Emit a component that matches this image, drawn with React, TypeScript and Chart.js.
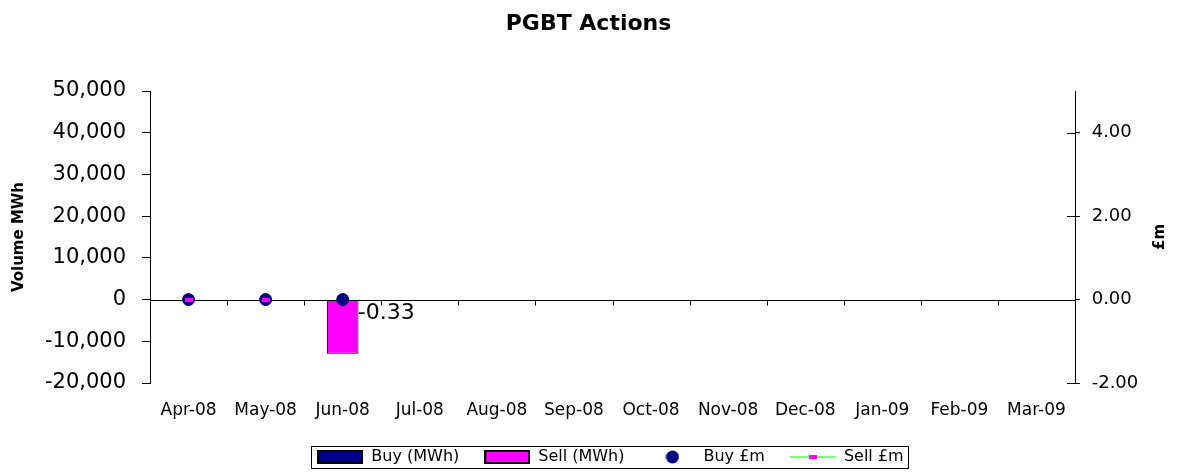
import React, { useEffect, useRef } from 'react';
import { Chart, registerables } from 'chart.js';

Chart.register(...registerables);

const categories = ['Apr-08', 'May-08', 'Jun-08', 'Jul-08', 'Aug-08', 'Sep-08', 'Oct-08', 'Nov-08', 'Dec-08', 'Jan-09', 'Feb-09', 'Mar-09'];
const buyMWh: (number | null)[] = [0, 0, 0, null, null, null, null, null, null, null, null, null];
const sellMWh: (number | null)[] = [0, 0, -13000, null, null, null, null, null, null, null, null, null];
const buyGBP: (number | null)[] = [0, 0, 0, null, null, null, null, null, null, null, null, null];
const sellGBP: (number | null)[] = [0, 0, -0.33, null, null, null, null, null, null, null, null, null];
const leftTicks = [-20000, -10000, 0, 10000, 20000, 30000, 40000, 50000];
const rightTicks = [-2, 0, 2, 4];
const rightMin = -2;
const rightMax = 5;
const seriesNames = ['Buy (MWh)', 'Sell (MWh)', 'Buy £m', 'Sell £m'];

const FAMILY = "'DejaVu Sans', sans-serif";

function makeBox(fill: string) {
  const c = document.createElement('canvas');
  c.width = 46; c.height = 14;
  const g = c.getContext('2d')!;
  g.fillStyle = '#000';
  g.fillRect(0, 0, 46, 14);
  g.fillStyle = fill;
  g.fillRect(2, 2, 42, 10);
  return c;
}
function makeDot(fill: string) {
  const c = document.createElement('canvas');
  c.width = 14; c.height = 14;
  const g = c.getContext('2d')!;
  g.fillStyle = fill;
  g.beginPath();
  g.arc(7, 7, 6.5, 0, Math.PI * 2);
  g.fill();
  return c;
}
function makeLine(line: string, mark: string) {
  const c = document.createElement('canvas');
  c.width = 46; c.height = 6;
  const g = c.getContext('2d')!;
  g.fillStyle = line;
  g.fillRect(0, 2.5, 46, 1);
  g.fillStyle = mark;
  g.fillRect(19, 1, 8, 4);
  return c;
}
function makeRectMarker(mark: string) {
  const c = document.createElement('canvas');
  c.width = 8; c.height = 4;
  const g = c.getContext('2d')!;
  g.fillStyle = mark;
  g.fillRect(0, 0, 8, 4);
  return c;
}

const extrasPlugin = {
  id: 'extras',
  afterLayout(chart: any) {
    if (chart.legend) {
      chart.legend.left += 22;
      chart.legend.right += 22;
    }
  },
  beforeDatasetsDraw(chart: any) {
    const { ctx, chartArea: a, scales } = chart;
    const y0 = Math.round(scales.y.getPixelForValue(0)) + 0.5;
    ctx.save();
    ctx.strokeStyle = '#000';
    ctx.lineWidth = 1;
    ctx.beginPath();
    ctx.moveTo(a.left, y0);
    ctx.lineTo(a.right, y0);
    const xs = scales.x;
    for (let i = 1; i < categories.length; i++) {
      const x = Math.round((xs.getPixelForTick(i - 1) + xs.getPixelForTick(i)) / 2) + 0.5;
      ctx.moveTo(x, y0);
      ctx.lineTo(x, y0 + 5);
    }
    for (const v of rightTicks) {
      const y = Math.round(scales.y1.getPixelForValue(v)) + 0.5;
      ctx.moveTo(a.right - 8, y);
      ctx.lineTo(a.right, y);
    }
    ctx.stroke();
    ctx.restore();
  },
  afterDraw(chart: any) {
    const { ctx, chartArea: a } = chart;
    ctx.save();
    ctx.translate(1160, (a.top + a.bottom) / 2);
    ctx.rotate(-Math.PI / 2);
    ctx.fillStyle = '#000';
    ctx.font = `bold 15px ${FAMILY}`;
    ctx.textAlign = 'center';
    ctx.textBaseline = 'middle';
    ctx.fillText('£m', 0, 0);
    ctx.restore();

    const meta = chart.getDatasetMeta(3);
    ctx.save();
    ctx.fillStyle = '#000';
    ctx.font = `22px ${FAMILY}`;
    ctx.textAlign = 'left';
    ctx.textBaseline = 'middle';
    sellGBP.forEach((v, i) => {
      if (v !== null && v !== 0) {
        const p = meta.data[i];
        ctx.fillText(v.toFixed(2), p.x + 15, p.y);
      }
    });
    ctx.restore();

    const hb = chart.legend && chart.legend.legendHitBoxes;
    if (hb && hb.length) {
      const last = hb[hb.length - 1];
      const l = Math.round(hb[0].left - 6) + 0.5;
      const r = Math.round(last.left + last.width + 4) + 0.5;
      const t = Math.round(hb[0].top - 3) + 0.5;
      const b = Math.round(hb[0].top + hb[0].height + 3) + 0.5;
      ctx.save();
      ctx.strokeStyle = '#000';
      ctx.lineWidth = 1;
      ctx.strokeRect(l, t, r - l, b - t);
      ctx.restore();
    }
  },
};

export default function App() {
  const ref = useRef<HTMLCanvasElement>(null);
  useEffect(() => {
    if (!ref.current) return;
    const legendImgs = [makeBox('#000080'), makeBox('#FF00FF'), makeDot('#000080'), makeLine('#00FF00', '#FF00FF')];
    const chart = new Chart(ref.current, {
      type: 'bar',
      data: {
        labels: categories,
        datasets: [
          {
            type: 'bar', label: seriesNames[0], data: buyMWh, yAxisID: 'y',
            backgroundColor: '#000080', borderColor: '#000', borderWidth: 1, borderSkipped: false,
            grouped: false, barPercentage: 0.41, categoryPercentage: 1, order: 3,
          } as any,
          {
            type: 'bar', label: seriesNames[1], data: sellMWh, yAxisID: 'y',
            backgroundColor: '#FF00FF', borderColor: '#000', borderWidth: 1, borderSkipped: false,
            grouped: false, barPercentage: 0.41, categoryPercentage: 1, order: 2,
          } as any,
          {
            type: 'line', label: seriesNames[2], data: buyGBP, yAxisID: 'y1',
            showLine: false, pointStyle: 'circle', pointRadius: 6, pointBorderWidth: 1,
            pointBackgroundColor: '#000080', pointBorderColor: '#000080', order: 1,
          } as any,
          {
            type: 'line', label: seriesNames[3], data: sellGBP, yAxisID: 'y1',
            showLine: false, borderColor: '#00FF00', borderWidth: 1,
            pointStyle: makeRectMarker('#FF00FF'), pointRadius: 4, order: 0,
          } as any,
        ],
      },
      options: {
        animation: false,
        responsive: true,
        maintainAspectRatio: false,
        font: { family: FAMILY },
        color: '#000',
        layout: { padding: 0 },
        plugins: {
          tooltip: { enabled: false },
          title: {
            display: true, text: 'PGBT Actions', color: '#000',
            font: { family: FAMILY, size: 22, weight: 'bold' },
            padding: { top: 11, bottom: 53.6 },
          },
          legend: {
            display: true, position: 'bottom',
            labels: {
              usePointStyle: true, pointStyleWidth: 46, padding: 25, color: '#000',
              font: { family: FAMILY, size: 16 },
              generateLabels: () => seriesNames.map((t, i) => ({
                text: t, pointStyle: legendImgs[i] as any, fillStyle: 'transparent',
                strokeStyle: 'transparent', lineWidth: 0, hidden: false, datasetIndex: i,
                fontColor: '#000',
              })),
            },
            onClick: () => {},
          },
        },
        scales: {
          x: {
            type: 'category', offset: true,
            grid: { display: false, drawTicks: false },
            border: { display: false },
            ticks: { color: '#000', font: { family: FAMILY, size: 17 }, padding: 17.8, maxRotation: 0, autoSkip: false },
            afterFit: (s: any) => { s.height = 41; },
          },
          y: {
            type: 'linear', position: 'left',
            min: leftTicks[0], max: leftTicks[leftTicks.length - 1],
            afterBuildTicks: (s: any) => { s.ticks = leftTicks.map((v) => ({ value: v })); },
            ticks: {
              color: '#000', font: { family: FAMILY, size: 21 }, padding: 16,
              callback: (v: any) => Number(v).toLocaleString('en-US'),
            },
            grid: { display: true, drawOnChartArea: false, drawTicks: true, tickLength: 8, color: '#000' },
            border: { display: true, color: '#000', width: 1 },
            title: {
              display: true, text: 'Volume MWh', color: '#000',
              font: { family: FAMILY, size: 15, weight: 'bold' }, padding: { top: 10, bottom: 0 },
            },
            afterFit: (s: any) => { s.width = 150; },
          },
          y1: {
            type: 'linear', position: 'right',
            min: rightMin, max: rightMax,
            afterBuildTicks: (s: any) => { s.ticks = rightTicks.map((v) => ({ value: v })); },
            ticks: {
              color: '#000', font: { family: FAMILY, size: 18 }, padding: 11.7,
              callback: (v: any) => Number(v).toFixed(2),
            },
            grid: { display: true, drawOnChartArea: false, drawTicks: true, tickLength: 5, color: '#000' },
            border: { display: true, color: '#000', width: 1 },
            afterFit: (s: any) => { s.width = 102; },
          },
        },
      } as any,
      plugins: [extrasPlugin],
    });
    return () => chart.destroy();
  }, []);
  return (
    <div style={{ position: 'fixed', left: 0, top: 0, width: 1177, height: 475, background: '#fff' }}>
      <canvas ref={ref} />
    </div>
  );
}
